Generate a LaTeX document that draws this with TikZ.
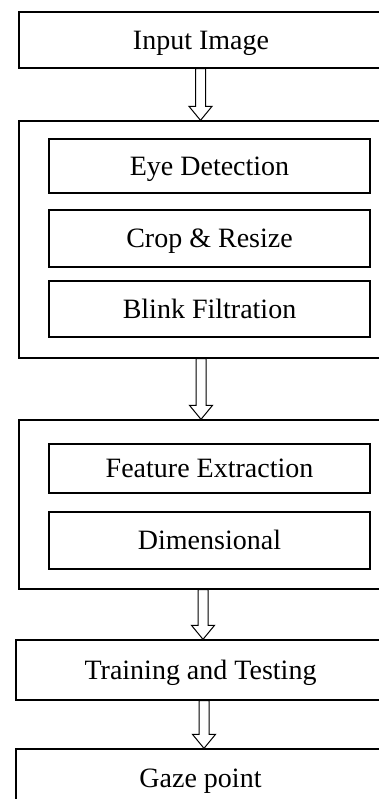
\documentclass[tikz,border=0pt]{standalone}
\usepackage{fontspec}
\setmainfont{Liberation Serif}
\usetikzlibrary{calc}
\tikzset{
  box/.style={draw=black, line width=1.3pt, fill=white, rectangle, inner sep=0pt,
    font=\fontsize{28}{30}\selectfont, text height=18.5pt, text depth=0pt},
  hollow/.style={draw=black, line width=1pt, fill=white, line join=miter,
    to path={let \p1=(\tikztostart), \p2=(\tikztotarget) in
      (\x1-5pt,\y1) -- (\x1-5pt,\y2+14pt) -- (\x1-11.5pt,\y2+14pt) -- (\x1,\y2)
      -- (\x1+11.5pt,\y2+14pt) -- (\x1+5pt,\y2+14pt) -- (\x1+5pt,\y1) -- cycle}},
}
\begin{document}
\begin{tikzpicture}[x=1pt,y=-1pt]
\useasboundingbox (0,0) rectangle (379,799);
\clip (0,0) rectangle (379,799);

% outer stages
\node[box, minimum width=364pt, minimum height=56pt] (input) at (201,40) {Input Image};

\node[box, minimum width=364pt, minimum height=237pt] (pre) at (201,239.5) {};
\node[box, minimum width=321pt, minimum height=54pt] (eye) at (209.5,166) {Eye Detection};
\node[box, minimum width=321pt, minimum height=57pt] (crop) at (209.5,238.5) {Crop \& Resize};
\node[box, minimum width=321pt, minimum height=56pt] (blink) at (209.5,309) {Blink Filtration};

\node[box, minimum width=364pt, minimum height=169pt] (feat) at (201,504.5) {};
\node[box, minimum width=321pt, minimum height=49pt] (fext) at (209.5,468.5) {Feature Extraction};
\node[box, minimum width=321pt, minimum height=57pt] (dim) at (209.5,540.5) {Dimensional};

\node[box, minimum width=369pt, minimum height=60pt] (train) at (200.5,670) {Training and Testing};
\node[box, minimum width=369pt, minimum height=58pt] (gaze) at (200.5,778) {Gaze point};

% hollow block arrows between the stages
\draw[hollow] ([xshift=-0.5pt]input.south) to ([xshift=-0.5pt]pre.north);
\draw[hollow] (pre.south) to (feat.north);
\draw[hollow] ([xshift=2pt]feat.south) to ([xshift=2pt]train.north);
\draw[hollow] ([xshift=3.5pt]train.south) to ([xshift=3.5pt]gaze.north);
\end{tikzpicture}
\end{document}
